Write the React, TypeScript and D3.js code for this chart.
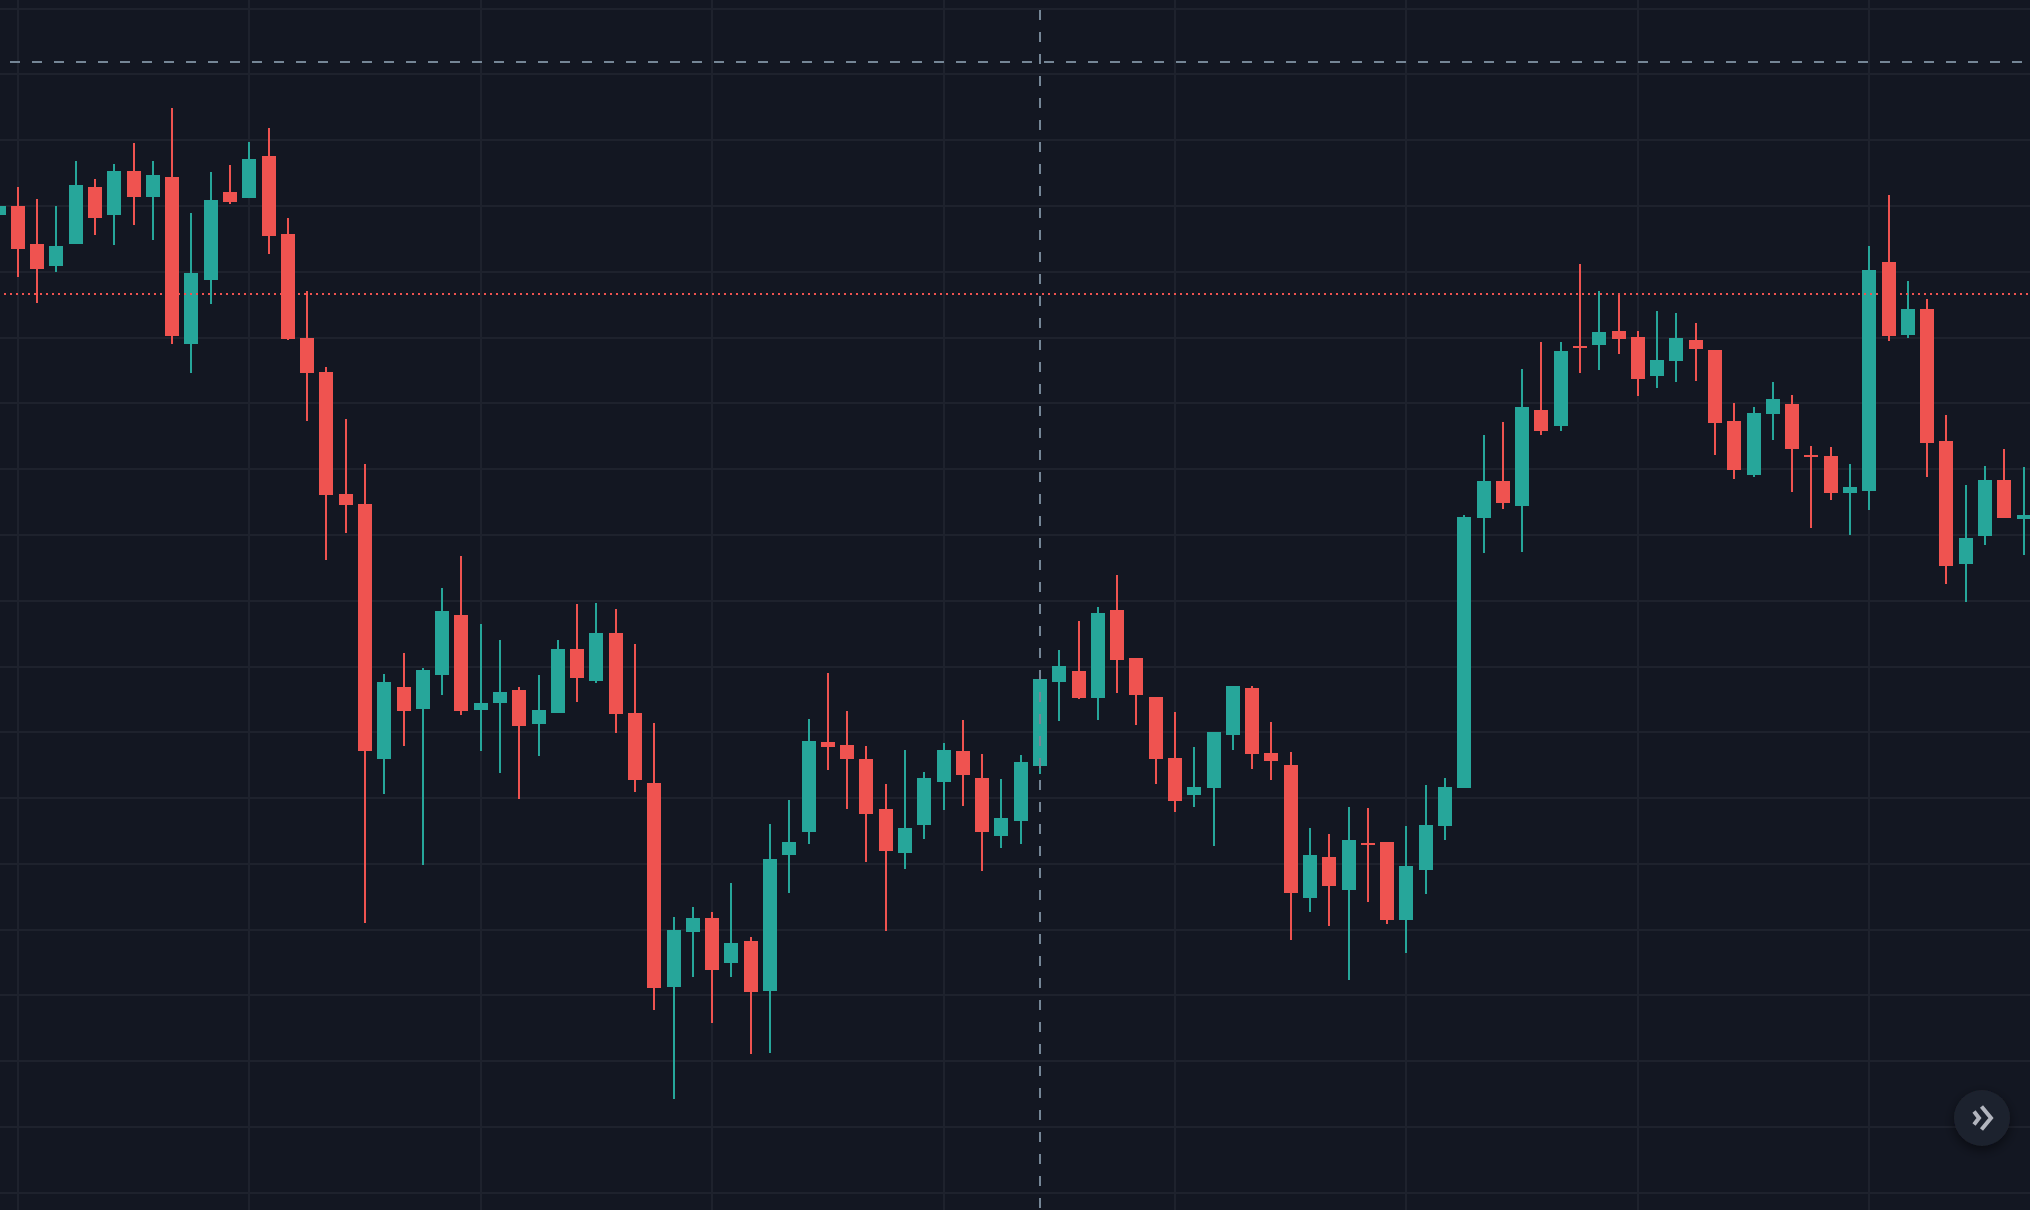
import { useEffect, useRef } from 'react';
import * as d3 from 'd3';

const width = 2030;
const height = 1210;

// candle values (arbitrary price units, no axis is shown)
const opens = [
  995, 1004, 966, 944, 966, 1023, 995, 1039, 1013, 1033, 866, 930, 1018, 1012, 1054, 976, 872, 838, 716, 706,
  451, 523, 501, 535, 595, 500, 507, 520, 486, 497, 561, 529, 577, 497, 427, 223, 278, 292, 247, 269,
  219, 355, 378, 468, 465, 451, 401, 357, 385, 428, 459, 432, 374, 389, 444, 528, 539, 512, 600, 552,
  513, 452, 415, 422, 475, 522, 457, 445, 312, 353, 320, 367, 368, 290, 340, 384, 422, 692, 729, 704,
  800, 784, 864, 865, 879, 873, 834, 849, 870, 860, 789, 735, 796, 806, 755, 754, 717, 719, 948, 875,
  901, 769, 646, 674, 730, 691,
];
const closes = [
  1004, 961, 941, 964, 1025, 992, 1039, 1013, 1035, 874, 937, 1010, 1008, 1051, 974, 871, 837, 715, 705, 459,
  528, 499, 540, 599, 499, 507, 518, 484, 500, 561, 532, 577, 496, 430, 222, 280, 292, 240, 267, 218,
  351, 368, 469, 463, 451, 396, 359, 382, 432, 460, 435, 378, 392, 448, 531, 544, 512, 597, 550, 515,
  451, 409, 423, 478, 524, 456, 449, 317, 355, 324, 370, 365, 290, 344, 385, 423, 693, 729, 707, 803,
  779, 859, 862, 878, 871, 831, 850, 872, 861, 787, 740, 797, 811, 761, 753, 717, 723, 940, 874, 901,
  767, 644, 672, 730, 692, 695,
];
const highs = [
  1010, 1023, 1011, 1004, 1049, 1031, 1046, 1067, 1049, 1102, 997, 1038, 1045, 1068, 1082, 992, 919, 843, 791, 746,
  536, 557, 542, 622, 654, 586, 570, 523, 535, 570, 606, 607, 601, 566, 487, 293, 303, 298, 327, 273,
  386, 410, 491, 537, 499, 464, 426, 460, 438, 467, 490, 456, 431, 455, 531, 560, 589, 603, 635, 552,
  513, 498, 463, 478, 524, 524, 488, 458, 382, 376, 403, 402, 368, 384, 425, 432, 695, 775, 788, 841,
  868, 868, 946, 919, 917, 879, 899, 897, 887, 860, 807, 803, 828, 815, 764, 763, 746, 964, 1015, 929,
  911, 795, 725, 744, 761, 743,
];
const lows = [
  990, 933, 907, 938, 966, 975, 965, 985, 970, 866, 837, 906, 1006, 1012, 956, 870, 789, 650, 677, 287,
  416, 464, 345, 515, 495, 459, 437, 411, 454, 497, 508, 527, 477, 418, 200, 111, 233, 187, 233, 156,
  157, 317, 366, 440, 401, 348, 279, 341, 371, 400, 404, 339, 362, 366, 436, 489, 511, 490, 517, 485,
  426, 398, 403, 364, 460, 441, 430, 270, 298, 284, 230, 308, 286, 257, 316, 370, 422, 657, 701, 658,
  775, 779, 837, 840, 856, 814, 822, 828, 829, 755, 731, 733, 770, 718, 682, 710, 675, 700, 869, 872,
  733, 626, 608, 665, 692, 655,
];

const gridPrices = [
  17.3, 83.1, 148.9, 214.6, 280.4, 346.2, 412, 477.8, 543.5, 609.3, 675.1, 740.9, 806.7, 872.4, 938.2, 1004,
  1069.8, 1135.6, 1201.3,
];
const gridCandles = [1, 13, 25, 37, 49, 61, 73, 85, 97];
const crosshairCandle = 54;
const crosshairPrice = 1148;
const lastPrice = 916;

const background = '#131722';
const gridColor = '#1e222d';
const upColor = '#26a69a';
const downColor = '#ef5350';
const crosshairColor = '#758696';

export default function App() {
  const svgRef = useRef<SVGSVGElement>(null);

  useEffect(() => {
    if (!svgRef.current) return;

    const svg = d3.select(svgRef.current);
    svg.selectAll('*').remove();

    const xScale = d3.scaleLinear().domain([1, 97]).range([18, 1869.36]);
    const yScale = d3.scaleLinear().domain([0, height]).range([height, 0]);
    const px = (i: number) => Math.floor(xScale(i) + 0.4);
    const py = (v: number) => Math.round(yScale(v));

    svg.append('rect').attr('width', width).attr('height', height).attr('fill', background);

    const grid = svg.append('g').attr('stroke', gridColor).attr('stroke-width', 2).attr('shape-rendering', 'crispEdges');
    grid
      .selectAll('line.h')
      .data(gridPrices)
      .join('line')
      .attr('class', 'h')
      .attr('x1', 0)
      .attr('x2', width)
      .attr('y1', py)
      .attr('y2', py);
    grid
      .selectAll('line.v')
      .data(gridCandles)
      .join('line')
      .attr('class', 'v')
      .attr('y1', 0)
      .attr('y2', height)
      .attr('x1', px)
      .attr('x2', px);

    const candles = svg
      .append('g')
      .attr('shape-rendering', 'crispEdges')
      .selectAll('g')
      .data(d3.range(opens.length))
      .join('g')
      .attr('fill', (i) => (closes[i] >= opens[i] ? upColor : downColor));

    candles
      .append('rect')
      .attr('x', (i) => px(i) - 1)
      .attr('width', 2)
      .attr('y', (i) => py(highs[i]))
      .attr('height', (i) => py(lows[i]) - py(highs[i]));

    candles
      .append('rect')
      .attr('x', (i) => px(i) - 7)
      .attr('width', 14)
      .attr('y', (i) => py(Math.max(opens[i], closes[i])))
      .attr('height', (i) => Math.abs(py(opens[i]) - py(closes[i])));

    // last price and crosshair sit above the candles
    const overlay = svg.append('g').attr('stroke-width', 2).attr('shape-rendering', 'crispEdges');
    overlay
      .append('line')
      .attr('x1', 4)
      .attr('x2', width)
      .attr('y1', py(lastPrice))
      .attr('y2', py(lastPrice))
      .attr('stroke', downColor)
      .attr('stroke-dasharray', '2 4');
    overlay
      .append('line')
      .attr('x1', 10)
      .attr('x2', width)
      .attr('y1', py(crosshairPrice))
      .attr('y2', py(crosshairPrice))
      .attr('stroke', crosshairColor)
      .attr('stroke-dasharray', '10 12');
    overlay
      .append('line')
      .attr('x1', px(crosshairCandle))
      .attr('x2', px(crosshairCandle))
      .attr('y1', 10)
      .attr('y2', height)
      .attr('stroke', crosshairColor)
      .attr('stroke-dasharray', '10 12');

    // scroll-to-latest button
    const filter = svg
      .append('defs')
      .append('filter')
      .attr('id', 'btn-shadow')
      .attr('x', '-50%')
      .attr('y', '-50%')
      .attr('width', '200%')
      .attr('height', '200%');
    filter
      .append('feDropShadow')
      .attr('dx', 0)
      .attr('dy', 4)
      .attr('stdDeviation', 6)
      .attr('flood-color', '#000000')
      .attr('flood-opacity', 0.5);

    const button = svg.append('g').attr('transform', 'translate(1982,1118)');
    button.append('circle').attr('r', 28).attr('fill', '#1e222d').attr('filter', 'url(#btn-shadow)');
    const chevron = d3.line();
    button
      .selectAll('path')
      .data([
        [[-8, -6.5], [-3, 0], [-8, 6.5]],
        [[-0.5, -11.5], [9, 0], [-0.5, 11.5]],
      ] as [number, number][][])
      .join('path')
      .attr('d', (d) => chevron(d))
      .attr('fill', 'none')
      .attr('stroke', '#b2b5be')
      .attr('stroke-width', 4);
  }, []);

  return (
    <svg
      ref={svgRef}
      width={width}
      height={height}
      style={{ position: 'absolute', left: 0, top: 0, display: 'block' }}
    />
  );
}
